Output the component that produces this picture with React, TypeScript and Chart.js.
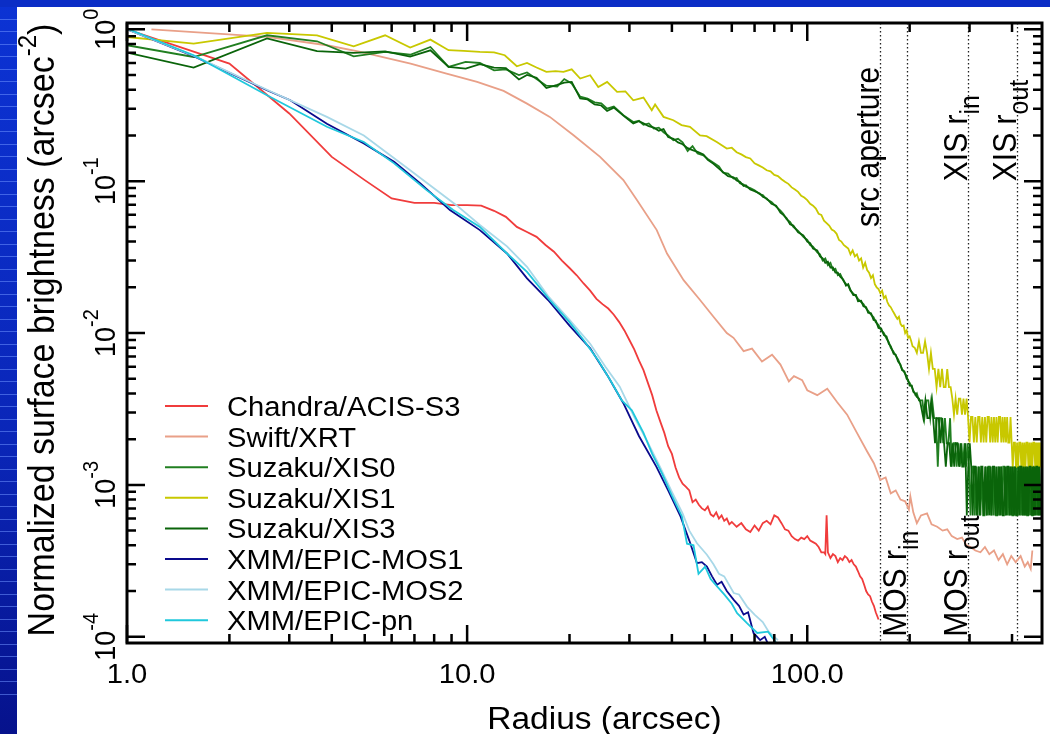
import React, { useEffect, useRef } from "react";
import { Chart, registerables } from "chart.js";

Chart.register(...registerables);

const W = 1050;
const H = 734;
const FONT = '"Liberation Sans", Arial, Helvetica, sans-serif';
const SX = 1.08;

// ---------------- data ----------------
const seriesNames = [
  "Chandra/ACIS-S3",
  "Swift/XRT",
  "Suzaku/XIS0",
  "Suzaku/XIS1",
  "Suzaku/XIS3",
  "XMM/EPIC-MOS1",
  "XMM/EPIC-MOS2",
  "XMM/EPIC-pn",
];
const seriesColors = ["#f03c3c", "#e9a088", "#217f21", "#c8c800", "#0a640a", "#0a0a8c", "#a8d8e8", "#20c8dc"];

const chandraR = [1,2,3,4,5,6,7,8,9,10,11,12,13,14,15,16,17,18,19,20,21,22,23,24,25,26,27,28,29,30,31,32,33,34,35,36,37,38,39,40,41,42,43,44,45,46,47,48,49,50,51,52,53,54,55,56,57,58,59,60,
  62,64,66,68,70,72,74,76,78,80,82,84,86,88,90,92,94,96,98,100,102,104,106,108,110,112,113,114,115,
  117,119,121,123,125,127,129,131,133,135,137,139,141,143,145,147,149,151,153,155,157,159,161,162];
const chandraV = [1.0,0.594,0.279,0.1445,0.1016,0.0769,0.072,0.072,0.0695,0.0695,
  0.069,0.0638,0.0582,0.050,0.0463,0.043,0.038,0.0343,0.030,0.0268,
  0.024,0.0212,0.019,0.0168,0.0155,0.0145,0.0132,0.0118,0.0104,0.0090,
  0.0078,0.0066,0.0057,0.0047,0.0039,0.0031,0.0026,0.0022,0.0018,0.0016,
  0.0013,0.00112,0.00102,0.00097,0.00092,0.00077,0.00080,0.00074,0.00070,0.00068,
  0.00072,0.00064,0.00062,0.00066,0.00060,0.00063,0.00058,0.00060,0.00055,0.00057,
  0.00053,0.00056,0.00051,0.00049,0.00054,0.00050,0.00056,0.00058,0.00055,0.00063,
  0.00061,0.00056,0.00051,0.00050,0.00046,0.00044,0.00043,0.00045,0.00044,0.00046,
  0.00043,0.00042,0.00041,0.00039,0.00036,0.00036,
  0.00035,0.00063,0.00036,
  0.00033,0.00035,0.00034,0.00031,0.00033,0.00032,0.00034,0.00033,0.00031,0.00032,
  0.00030,0.00029,0.00027,0.00025,0.00024,0.00022,0.00020,0.00019,0.000185,0.00017,0.00016,0.000145,0.000135,
  0.00013];

const swiftR = [1.18,2.58,3.87,4.86,6.82,8.7,10.7,12.8,15,17.5,20.6,24.6,28.8,31.6,36.1,38.7,43.3,48.4,53,58,
  60.7,65,68.8,73.6,78.8,83.4,88.3,91.4,96.6,100,107,114.5,122.5,131,140,150,157,164,170,176,
  182,188,194,199,201,205,210,216,225,232,241,250,258,266,276,285,294,302,312,323,
  333,343,354,365,376,387,398,410,424,436,445,454,459];
const swiftV = [1.0,0.89,0.785,0.71,0.595,0.511,0.45,0.393,0.324,0.265,
  0.2,0.1445,0.1016,0.075,0.0476,0.0334,0.0223,0.0165,0.0128,0.0100,
  0.0093,0.0076,0.0079,0.0065,0.0072,0.0062,0.0048,0.0052,0.0049,0.0042,
  0.0039,0.0043,0.0035,0.0029,0.0022,0.00166,0.00139,0.00108,0.00112,0.00088,
  0.00092,0.00080,0.00078,0.00069,0.00084,0.00066,0.00056,0.00063,0.00065,0.00055,
  0.00053,0.00050,0.00051,0.00046,0.00044,0.00045,0.00040,0.00039,0.00037,0.00036,
  0.00039,0.00035,0.00037,0.00032,0.00035,0.00030,0.00034,0.00031,0.00034,0.00029,
  0.00031,0.00028,0.00037];

const xisMainR = [1,1.57,2.58,3.62,4.64,5.74,6.8,7.8,8.82,9.9,
  10.9,12,13,14.2,15,16,17.1,18.4,19.3,20.3,
  21.5,22.6,23.7,24.8,25.8,27,28.8,30.8,32,33,
  34.2,35.4,36.6,37.8,39,40.4,41.7,43,44.5,46,
  47.6,49.5,51,53,55,56.5,58.5,60.7,62,63.4,
  65,66,68,70,72.5,74,76,78.5,81,83.4,
  85,87,89,91,94,97.4,100,102,104,107,
  109,111,113,115,117,119,121,123,125,127.6,
  130,132,134,136.6,139,141,144,146.3,149,151,
  154,156.7,159,162,165,168,171,173.7,176,179.5,
  182,185,188,190,193,196,198,200,203,205,
  208,210,213,215];
const xis0MainV = [0.785,0.657,0.913,0.834,0.664,0.71,0.68,0.765,0.565,0.61,
  0.60,0.537,0.545,0.50,0.52,0.47,0.425,0.42,0.47,0.44,
  0.36,0.35,0.33,0.325,0.30,0.31,0.272,0.245,0.25,0.235,
  0.24,0.222,0.225,0.21,0.20,0.186,0.19,0.18,0.158,0.17,
  0.152,0.148,0.14,0.132,0.125,0.114,0.112,0.104,0.105,0.097,
  0.095,0.092,0.090,0.087,0.082,0.081,0.076,0.073,0.068,0.064,
  0.061,0.056,0.054,0.050,0.047,0.043,0.041,0.038,0.037,0.034,
  0.033,0.030,0.031,0.028,0.029,0.026,0.0265,0.024,0.0245,0.0222,
  0.021,0.0205,0.019,0.0182,0.0175,0.0168,0.016,0.0155,0.0145,0.014,
  0.0132,0.0127,0.0118,0.0113,0.0104,0.0100,0.0092,0.0087,0.0080,0.0075,
  0.0071,0.0067,0.0061,0.0058,0.0055,0.0052,0.0048,0.0047,0.0044,0.0042,
  0.0039,0.0040,0.0036,0.0036];
const xis0TailR = [218,221,224,227,230,233,236,239,242,245,248,251,254,257,260,263,266,269,272,275,
  278,281,284,287,290,293,296,299,302,305,308,311,314,317,320,323,326,329,332,335,
  338,341,344,347,350,353,356,359,362,365,368,371,374,377,380,383,386,389,392,395,
  398,401,404,407,410,413,416,419,422,425,428,431,434,437,440,443,446,449,452,455,
  458,461,464,467,470,473,476,479,482,485];
const xis0TailV = [0.0036,0.00275,0.0036,0.0036,0.00275,0.0036,0.00275,0.00275,0.00132,0.00275,
  0.00275,0.00188,0.00275,0.00188,0.00188,0.00275,0.00132,0.00188,0.00188,0.00132,
  0.00188,0.00132,0.00188,0.00132,0.00188,0.00132,0.00188,0.00132,0.00063,0.00132,
  0.00132,0.00063,0.00132,0.00063,0.00132,0.00063,0.00132,0.00063,0.00063,0.00132,
  0.00063,0.00132,0.00132,0.00063,0.00132,0.00063,0.00132,0.00063,0.00063,0.00132,
  0.00063,0.00132,0.00063,0.00132,0.00132,0.00063,0.00132,0.00063,0.00132,0.00063,
  0.00132,0.00063,0.00063,0.00132,0.00063,0.00132,0.00063,0.00132,0.00132,0.00063,
  0.00132,0.00063,0.00132,0.00063,0.00132,0.00063,0.00063,0.00132,0.00063,0.00132,
  0.00063,0.00132,0.00132,0.00063,0.00132,0.00063,0.00132,0.00063,0.00132,0.00063];

const xis3MainV = [0.702,0.56,0.871,0.718,0.70,0.715,0.66,0.727,0.565,0.551,
  0.59,0.56,0.555,0.467,0.50,0.48,0.41,0.43,0.445,0.45,
  0.35,0.345,0.32,0.315,0.29,0.305,0.27,0.24,0.248,0.24,
  0.23,0.225,0.215,0.22,0.195,0.19,0.18,0.175,0.165,0.16,
  0.156,0.150,0.138,0.130,0.121,0.115,0.108,0.106,0.101,0.099,
  0.093,0.094,0.088,0.086,0.083,0.079,0.077,0.071,0.069,0.062,
  0.060,0.057,0.052,0.051,0.046,0.044,0.040,0.039,0.036,0.035,
  0.032,0.031,0.029,0.0295,0.027,0.027,0.025,0.025,0.0235,0.0225,
  0.0205,0.021,0.0192,0.0178,0.0178,0.0162,0.0163,0.015,0.0148,0.0136,
  0.0135,0.0122,0.0121,0.0108,0.0107,0.0097,0.0095,0.0085,0.0082,0.0073,
  0.0072,0.0065,0.0062,0.0057,0.0056,0.0050,0.0049,0.0045,0.0045,0.0041,
  0.0040,0.0038,0.0037,0.0035];
const xis3TailR = [219.5,222.5,225.5,228.5,231.5,234.5,237.5,240.5,243.5,246.5,
  249.5,252.5,255.5,258.5,261.5,264.5,267.5,270.5,273.5,276.5,
  279.5,282.5,285.5,288.5,291.5,294.5,297.5,300.5,303.5,306.5,
  309.5,312.5,315.5,318.5,321.5,324.5,327.5,330.5,333.5,336.5,
  339.5,342.5,345.5,348.5,351.5,354.5,357.5,360.5,363.5,366.5,
  369.5,372.5,375.5,378.5,381.5,384.5,387.5,390.5,393.5,396.5,
  399.5,402.5,405.5,408.5,411.5,414.5,417.5,420.5,423.5,426.5,
  429.5,432.5,435.5,438.5,441.5,444.5,447.5,450.5,453.5,456.5,
  459.5,462.5,465.5,468.5,471.5,474.5,477.5,480.5,483.5];
const xis3TailV = [0.00275,0.0036,0.00275,0.00275,0.0036,0.00275,0.00188,0.00275,0.00275,0.00188,
  0.00275,0.00188,0.00132,0.00188,0.00188,0.00132,0.00188,0.00132,0.00188,0.00188,
  0.00132,0.00188,0.00132,0.00132,0.00188,0.00063,0.00132,0.00188,0.00132,0.00063,
  0.00132,0.00132,0.00063,0.00132,0.00063,0.00132,0.00132,0.00063,0.00132,0.00063,
  0.00132,0.00063,0.00132,0.00063,0.00132,0.00132,0.00063,0.00132,0.00063,0.00132,
  0.00063,0.00132,0.00063,0.00063,0.00132,0.00063,0.00132,0.00132,0.00063,0.00132,
  0.00063,0.00132,0.00063,0.00132,0.00063,0.00063,0.00132,0.00063,0.00132,0.00132,
  0.00063,0.00132,0.00063,0.00132,0.00063,0.00132,0.00063,0.00132,0.00132,0.00063,
  0.00132,0.00063,0.00132,0.00063,0.00132,0.00132,0.00063,0.00132,0.00063];

const xis1R = [1,1.57,2.58,3.62,4.64,5.74,6.8,7.8,8.82,9.77,
  10.9,12,12.9,14,15,16,17.1,18.2,19.2,20.3,
  21.5,23,24.3,25.8,27.6,29.2,30.8,33,34.9,35.7,
  37.8,40.4,42.7,45.2,48.4,50.6,54.2,58,
  60,62,64,66,68,70,72,74,76,78,80,82,84,86,88,90,92,94,96,98,
  100,102,104,106,108,110,112,114,116,118,120,122,124,126,128,130,132,134,136,138,
  140,142,144,146,148,150,152,154,156,158,160,162,164,166,168,170,172,174,176,178,
  180,182,184,186,188,190,192,194,196,198,200,202,204,
  207,210,213,216,219,222,225,228,231,234,237,240,243,246,249,252,255,258,261,264,
  267,270,273,276,279,282,285,288,291,294,297,300,303,306,309,312,315,318,321,324,
  327,330,333,336,339,342,345,348,351,354,357,360,363,366,369,372,375,378,381,384,
  387,390,393,396,399,402,405,408,411,414,417,420,423,426,429,432,435,438,441,444,
  447,450,453,456,459,462,465,468,471,474,477,480,483,486];
const xis1V = [0.89,0.805,0.946,0.913,0.773,0.913,0.759,0.855,0.728,0.72,
  0.71,0.705,0.675,0.571,0.60,0.56,0.524,0.53,0.524,0.545,
  0.474,0.498,0.417,0.45,0.387,0.39,0.341,0.355,0.293,0.32,
  0.265,0.252,0.234,0.228,0.200,0.198,0.181,0.164,
  0.166,0.155,0.150,0.144,0.141,0.131,0.127,0.123,0.118,0.116,
  0.110,0.108,0.103,0.099,0.096,0.091,0.088,0.085,0.080,0.078,
  0.075,0.071,0.069,0.066,0.061,0.060,0.055,0.053,0.051,0.048,
  0.047,0.045,0.041,0.040,0.038,0.037,0.036,0.033,0.035,0.032,
  0.033,0.030,0.031,0.027,0.029,0.026,0.025,0.023,0.024,0.021,
  0.020,0.0195,0.0183,0.019,0.017,0.0175,0.0160,0.0152,0.0148,0.0141,
  0.0135,0.0129,0.0124,0.0128,0.0115,0.0111,0.0112,0.0100,0.0104,0.0093,
  0.0095,0.0089,0.0082,
  0.0080,0.0074,0.0088,0.0074,0.0074,0.0088,0.0074,0.0058,0.0074,0.0058,
  0.0058,0.0044,0.0058,0.0044,0.0058,0.0044,0.0044,0.0058,0.0044,0.0044,
  0.0037,0.0029,0.0037,0.0029,0.0037,0.0037,0.0029,0.0037,0.0029,0.0037,
  0.0028,0.0019,0.0028,0.0028,0.0019,0.0028,0.0019,0.0028,0.0028,0.0019,
  0.0028,0.0019,0.0028,0.0019,0.0028,0.0028,0.0019,0.0028,0.0019,0.0028,
  0.0019,0.0028,0.0019,0.0028,0.0028,0.0019,0.0028,0.0019,0.0028,0.0019,
  0.0028,0.0019,0.0019,0.0028,0.0019,0.0013,0.0019,0.0019,0.0013,0.0019,
  0.0013,0.0019,0.0019,0.0013,0.0019,0.0013,0.0019,0.0013,0.0019,0.0019,
  0.0013,0.0019,0.00093,0.0019,0.0013,0.0019,0.0019,0.0013,0.0019,0.0013,
  0.0019,0.0013,0.0019,0.0013];

const mos1R = [1,1.57,2.58,3.02,3.87,4.97,6.1,7.3,8.9,10.9,13.1,15,17.3,20,23,25.8,28.8,32,36,39,
  42.4,45,47.4,49,50.7,52.5,54.3,56,58,60.8,63,65,67,69.5,72.7,75,77,80];
const mos1V = [1.0,0.665,0.397,0.341,0.239,0.177,0.134,0.0964,0.0645,0.0476,
  0.0334,0.0229,0.0165,0.0112,0.00793,0.0053,0.00345,0.0021,0.00132,0.00092,
  0.00062,0.00043,0.000305,0.00031,0.00029,0.00025,0.00022,0.00023,0.0002,0.000175,
  0.00016,0.00014,0.000145,0.000106,0.000095,0.0001,0.000088,0.00008];

const mos2R = [1,1.57,2.58,3.87,4.97,6.8,9.3,10.9,13.1,15,17.3,20,23,25.5,28.1,31,34,37,40,43,
  45,47.4,50.7,53,55,57,60.8,63,66.5,70,74,77,82];
const mos2V = [1.0,0.67,0.40,0.265,0.2,0.118,0.0695,0.0514,0.0372,0.0273,
  0.0175,0.0122,0.0085,0.0060,0.00443,0.0028,0.0019,0.0013,0.0009,0.00065,
  0.0005,0.000413,0.000347,0.00030,0.00026,0.00025,0.000194,0.00019,0.000158,0.00014,
  0.000125,0.000108,0.000095];

const pnR = [1,1.57,2.58,3.87,4.97,6.1,7.6,9.1,10.9,13.1,15,17.5,20,22,24.3,26.5,28.5,30.5,33,35,
  37.4,40,42.8,44.3,46.3,47.9,50.1,52,54.3,57,60,62.2,66.5,71.3,76.7,81.4];
const pnV = [1.01,0.675,0.368,0.228,0.181,0.131,0.0873,0.0645,0.050,0.0334,
  0.0253,0.0165,0.0118,0.009,0.0066,0.0048,0.0036,0.0031,0.0022,0.0016,
  0.00119,0.00085,0.00062,0.00041,0.00040,0.00026,0.00029,0.00024,0.000215,0.00019,
  0.000165,0.000143,0.000123,0.000106,0.000108,0.00009];

// reference radii (arcsec) and their labels
const refRadii = [164, 197, 296, 415];
const refLabelR = [164, 197, 296, 296, 415];
const refLabelY = [0.05, 1e-4, 1e-4, 0.1, 0.1];
const refLabelMain = ["src aperture", "MOS r", "MOS r", "XIS r", "XIS r"];
const refLabelSub = ["", "in", "out", "in", "out"];

// axes
const X_MIN = 1;
const X_MAX = 490;
const Y_MIN = 9.1e-5;
const Y_MAX = 1.1;
const xTickValues = [1, 10, 100];
const xTickLabels = ["1.0", "10.0", "100.0"];
const yTickValues = [1, 0.1, 0.01, 0.001, 0.0001];
const yTickExp = ["0", "-1", "-2", "-3", "-4"];
const xTitle = "Radius (arcsec)";
const yTitleMain = "Normalized surface brightness (arcsec";
const yTitleSup = "-2";

// ---------------- helpers ----------------
type Part = { t: string; size: number; dy?: number };

function rich(ctx: CanvasRenderingContext2D, x: number, y: number, parts: Part[], rot: boolean, align: "left" | "center") {
  ctx.save();
  ctx.translate(x, y);
  ctx.scale(SX, 1);
  if (rot) ctx.rotate(-Math.PI / 2);
  ctx.textAlign = "left";
  ctx.textBaseline = "alphabetic";
  ctx.fillStyle = "#000";
  let total = 0;
  const widths = parts.map((p) => {
    ctx.font = `${p.size}px ${FONT}`;
    const w = ctx.measureText(p.t).width;
    total += w;
    return w;
  });
  let cx = align === "center" ? -total / 2 : 0;
  parts.forEach((p, i) => {
    ctx.font = `${p.size}px ${FONT}`;
    ctx.fillText(p.t, cx, p.dy || 0);
    cx += widths[i];
  });
  ctx.restore();
}

function zip(r: number[], v: number[]) {
  return r.map((x, i) => ({ x, y: v[i] }));
}

const overlay = {
  id: "overlay",
  beforeDraw(chart: any) {
    const ctx = chart.ctx as CanvasRenderingContext2D;
    ctx.save();
    ctx.fillStyle = "#fff";
    ctx.fillRect(0, 0, W, H);
    ctx.restore();
  },
  beforeDatasetsDraw(chart: any) {
    const ctx = chart.ctx as CanvasRenderingContext2D;
    const a = chart.chartArea;
    const xs = chart.scales.x;
    ctx.save();
    ctx.strokeStyle = "#222";
    ctx.lineWidth = 1.3;
    ctx.setLineDash([1.4, 2.6]);
    refRadii.forEach((r) => {
      const px = Math.round(xs.getPixelForValue(r)) + 0.5;
      ctx.beginPath();
      ctx.moveTo(px, a.top);
      ctx.lineTo(px, a.bottom);
      ctx.stroke();
    });
    ctx.restore();
  },
  afterDraw(chart: any) {
    const ctx = chart.ctx as CanvasRenderingContext2D;
    const a = chart.chartArea;
    const xs = chart.scales.x;
    const ys = chart.scales.y;
    ctx.save();
    // ticks
    ctx.strokeStyle = "#000";
    ctx.lineWidth = 2.5;
    ctx.lineCap = "butt";
    for (let d = 1; d <= 1000; d *= 10) {
      for (let m = 1; m <= 9; m++) {
        const v = m * d;
        if (v < X_MIN || v > X_MAX) continue;
        const px = xs.getPixelForValue(v);
        const len = m === 1 ? 18 : 9;
        ctx.beginPath();
        ctx.moveTo(px, a.bottom);
        ctx.lineTo(px, a.bottom - len);
        ctx.moveTo(px, a.top);
        ctx.lineTo(px, a.top + len);
        ctx.stroke();
      }
    }
    for (let e = -5; e <= 0; e++) {
      const d = Math.pow(10, e);
      for (let m = 1; m <= 9; m++) {
        const v = m * d;
        if (v < Y_MIN || v > Y_MAX) continue;
        const py = ys.getPixelForValue(v);
        const len = m === 1 ? 18 : 9;
        ctx.beginPath();
        ctx.moveTo(a.left, py);
        ctx.lineTo(a.left + len, py);
        ctx.moveTo(a.right, py);
        ctx.lineTo(a.right - len, py);
        ctx.stroke();
      }
    }
    // frame
    ctx.lineWidth = 3;
    ctx.strokeRect(a.left, a.top, a.right - a.left, a.bottom - a.top);
    ctx.restore();

    // tick labels
    xTickValues.forEach((v, i) => {
      rich(ctx, xs.getPixelForValue(v), 683, [{ t: xTickLabels[i], size: 27 }], false, "center");
    });
    yTickValues.forEach((v, i) => {
      rich(ctx, 115, ys.getPixelForValue(v), [{ t: "10", size: 27 }, { t: yTickExp[i], size: 20, dy: -16 }], true, "center");
    });

    // titles
    rich(ctx, (a.left + a.right) / 2 + 20, 729, [{ t: xTitle, size: 31 }], false, "center");
    rich(ctx, 54, (a.top + a.bottom) / 2 - 3, [
      { t: yTitleMain, size: 34 },
      { t: yTitleSup, size: 24, dy: -17 },
      { t: ")", size: 34 },
    ], true, "center");

    // reference line labels
    refLabelR.forEach((r, i) => {
      const px = Math.round(xs.getPixelForValue(r)) - 1;
      const py = ys.getPixelForValue(refLabelY[i]);
      const parts: Part[] = [{ t: refLabelMain[i], size: 30 }];
      if (refLabelSub[i]) parts.push({ t: refLabelSub[i], size: 25, dy: 11 });
      rich(ctx, px, py, parts, true, "left");
    });

    // legend
    ctx.save();
    seriesNames.forEach((name, i) => {
      const yb = 416 + i * 30.6;
      ctx.strokeStyle = seriesColors[i];
      ctx.lineWidth = 2;
      ctx.beginPath();
      ctx.moveTo(165, yb - 10);
      ctx.lineTo(208, yb - 10);
      ctx.stroke();
      rich(ctx, 227, yb, [{ t: name, size: 27 }], false, "left");
    });
    ctx.restore();

    // blue template bands
    ctx.save();
    const g = ctx.createLinearGradient(0, 0, 0, H);
    g.addColorStop(0, "#0c33d4");
    g.addColorStop(0.6, "#0a26b8");
    g.addColorStop(1, "#06128c");
    ctx.fillStyle = g;
    ctx.fillRect(0, 0, 17, H);
    ctx.strokeStyle = "rgba(110,145,255,0.55)";
    ctx.lineWidth = 1;
    for (let y = 18.5; y < H - 30; y += 12.5) {
      ctx.beginPath();
      ctx.moveTo(0, Math.round(y) + 0.5);
      ctx.lineTo(17, Math.round(y) + 0.5);
      ctx.stroke();
    }
    ctx.fillStyle = "#0b2ec6";
    ctx.fillRect(0, 0, W, 7);
    ctx.restore();
  },
};

export default function App() {
  const ref = useRef<HTMLCanvasElement | null>(null);
  useEffect(() => {
    if (!ref.current) return;
    const data = [
      zip(chandraR, chandraV),
      zip(swiftR, swiftV),
      zip(xisMainR, xis0MainV).concat(zip(xis0TailR, xis0TailV)),
      zip(xis1R, xis1V),
      zip(xisMainR, xis3MainV).concat(zip(xis3TailR, xis3TailV)),
      zip(mos1R, mos1V),
      zip(mos2R, mos2V),
      zip(pnR, pnV),
    ];
    const chart = new Chart(ref.current, {
      type: "line",
      data: {
        datasets: seriesNames.map((name, i) => ({
          label: name,
          data: data[i],
          borderColor: seriesColors[i],
          backgroundColor: seriesColors[i],
          borderWidth: 1.8,
          pointRadius: 0,
          tension: 0,
          fill: false,
          order: seriesNames.length - i,
        })),
      },
      options: {
        responsive: false,
        animation: false,
        devicePixelRatio: 1,
        parsing: true,
        layout: { padding: { left: 127, top: 23, right: 8, bottom: 91 } },
        scales: {
          x: { type: "logarithmic", min: X_MIN, max: X_MAX, display: false },
          y: { type: "logarithmic", min: Y_MIN, max: Y_MAX, display: false },
        },
        plugins: { legend: { display: false }, tooltip: { enabled: false } },
      },
      plugins: [overlay],
    } as any);
    return () => chart.destroy();
  }, []);
  return (
    <div style={{ position: "fixed", left: 0, top: 0, width: W, height: H, background: "#fff" }}>
      <canvas ref={ref} width={W} height={H} style={{ display: "block", width: W, height: H }} />
    </div>
  );
}
